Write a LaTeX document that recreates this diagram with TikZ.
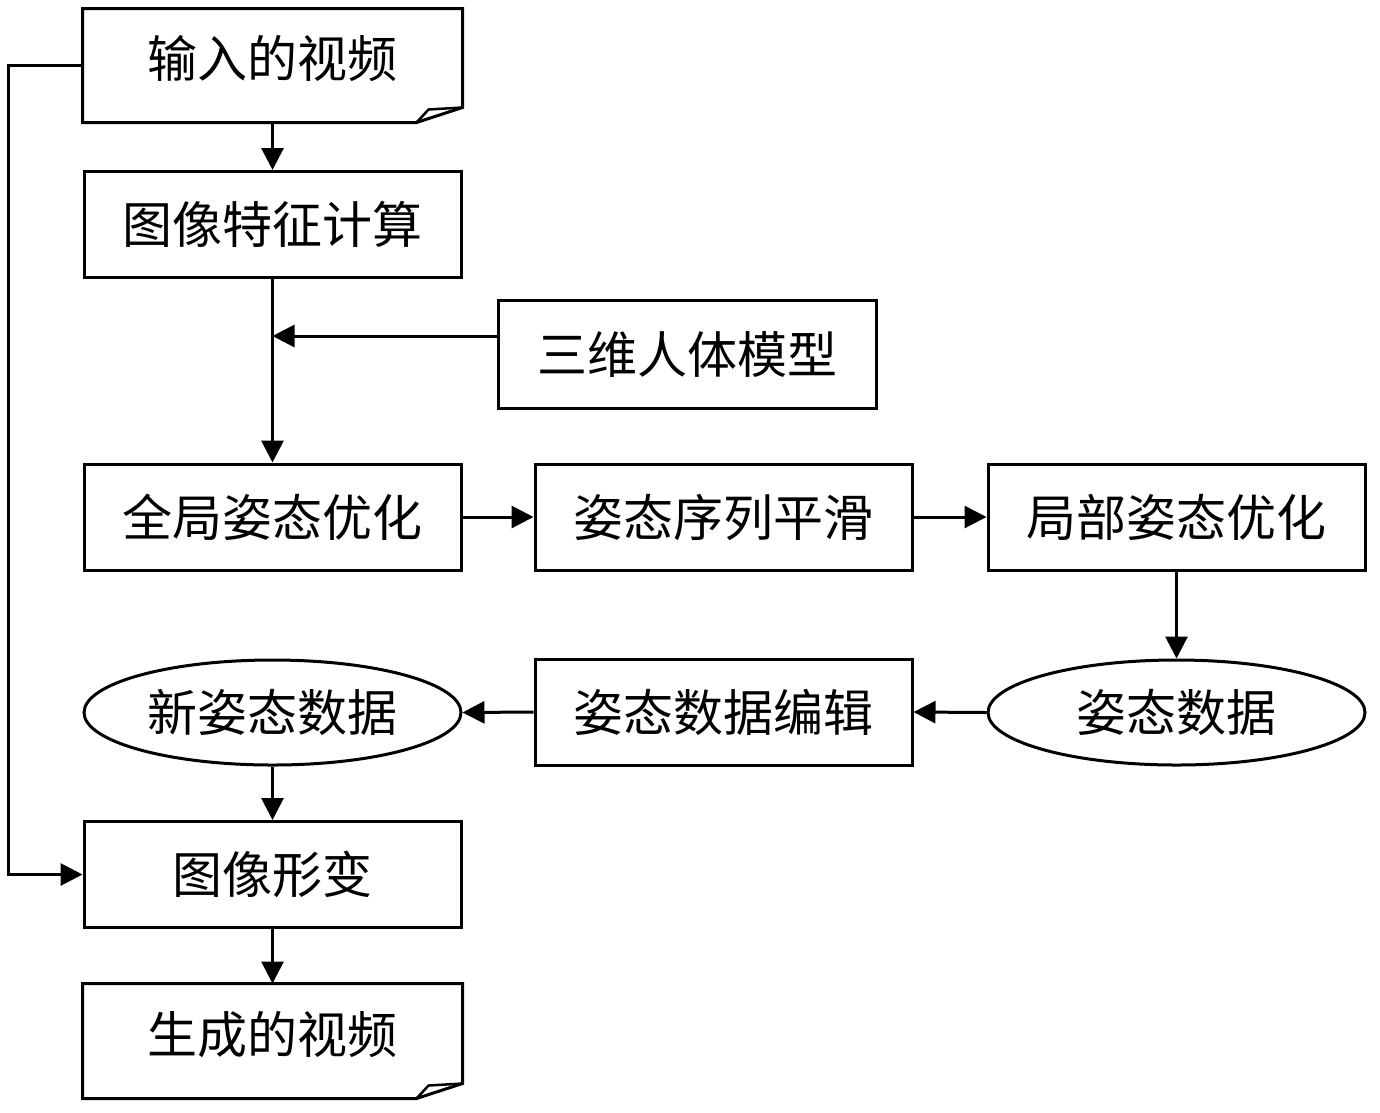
\documentclass[tikz,border=0pt]{standalone}
\usepackage{fontspec}
\newfontfamily\cjk{Noto Sans CJK SC}
\usetikzlibrary{arrows.meta,shapes.geometric}
\begin{document}
\begin{tikzpicture}[x=1pt,y=-1pt,line width=3pt,
  txt/.style={font=\cjk\fontsize{50}{54}\selectfont,text height=43pt,text depth=5pt,inner sep=0pt},
  box/.style={txt,draw,rectangle,minimum width=377pt,minimum height=106pt},
  ell/.style={txt,draw,ellipse,minimum width=377pt,minimum height=105pt},
  doc/.style={txt,rectangle,minimum width=377pt,minimum height=111pt,text depth=19pt},
  arr/.style={-{Triangle[length=22pt,width=22pt]}}]
\useasboundingbox (0,0) rectangle (1380,1112);
% nodes
\node[doc] (in) at (272.5,65.5) {输入的视频};
\node[box] (feat) at (272.5,224.5) {图像特征计算};
\node[box,minimum width=378pt,minimum height=108pt] (m3d) at (687,354) {三维人体模型};
\node[box] (glob) at (272.5,517) {全局姿态优化};
\node[box] (smooth) at (723.5,517) {姿态序列平滑};
\node[box] (loc) at (1176.5,517) {局部姿态优化};
\node[ell] (pose) at (1176.5,712.5) {姿态数据};
\node[box] (edit) at (723.5,712) {姿态数据编辑};
\node[ell] (npose) at (272.5,712.5) {新姿态数据};
\node[box] (warp) at (272.5,874.5) {图像形变};
\node[doc,minimum height=112pt] (out) at (272.5,1041) {生成的视频};
% document outlines
\foreach \n in {in,out}{
  \draw (\n.north west) -- (\n.north east) -- ([yshift=15pt]\n.south east)
    -- ([xshift=-46pt]\n.south east) -- (\n.south west) -- cycle;
  \draw[line width=2.5pt] ([xshift=-46pt]\n.south east) -- ([xshift=-34pt,yshift=13pt]\n.south east)
    -- ([yshift=15pt]\n.south east);
}
% connectors
\coordinate (j) at (272.5,336);
\draw[arr] (in.south) -- (feat.north);
\draw[arr] (feat.south) -- (glob.north);
\draw[arr] (m3d.west |- j) -- (j);
\draw[arr] (glob.east) -- (smooth.west);
\draw[arr] (smooth.east) -- (loc.west);
\draw[arr] (loc.south) -- (pose.north);
\draw[arr] (pose.west) -- (edit.east);
\draw[arr] (edit.west) -- (npose.east);
\draw[arr] (npose.south) -- (warp.north);
\draw[arr] (warp.south) -- (out.north);
\draw[arr] (in.west) -- ++(-74pt,0) |- (warp.west);
\end{tikzpicture}
\end{document}
